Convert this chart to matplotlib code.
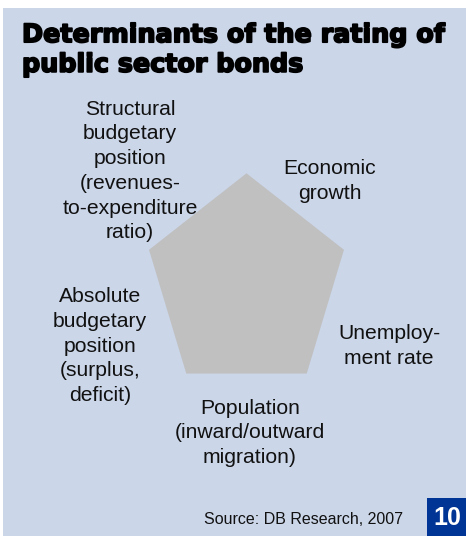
import numpy as np
import matplotlib.pyplot as plt
import matplotlib.patheffects as pe
from matplotlib.patches import Polygon, Rectangle

W, H = 466, 536

TITLE = "Determinants of the rating of\npublic sector bonds"
LABELS = [
    "Structural\nbudgetary\nposition\n(revenues-\nto-expenditure\nratio)",
    "Economic\ngrowth",
    "Unemploy-\nment rate",
    "Population\n(inward/outward\nmigration)",
    "Absolute\nbudgetary\nposition\n(surplus,\ndeficit)",
]
LABEL_POS = [(130, 171), (330, 181), (389, 346), (250, 433), (100, 346)]
SOURCE = "Source: DB Research, 2007"
PAGE = "10"

BG = "#cbd6e9"
GREY = "#c0c0c0"
BLUE = "#003595"

fig = plt.figure(figsize=(W / 100, H / 100), dpi=100)
ax = fig.add_axes([0, 0, 1, 1])
ax.set_xlim(0, W)
ax.set_ylim(H, 0)
ax.axis("off")

# panel background
ax.add_patch(Rectangle((3, 8), W - 3, H - 8, facecolor=BG, edgecolor="none"))

# pentagon (regular, slightly stretched vertically)
cx, cy, r, stretch = 246.5, 284, 102.5, 1.08
ang = np.deg2rad(90 + 72 * np.arange(5))
pts = np.column_stack([cx + r * np.cos(ang), cy - stretch * r * np.sin(ang)])
ax.add_patch(Polygon(pts, closed=True, facecolor=GREY, edgecolor="none"))

ax.text(22, 50, TITLE, fontsize=18.3, fontweight="heavy", family="DejaVu Sans",
        ha="left", va="center", linespacing=1.3, color="black",
        path_effects=[pe.withStroke(linewidth=1.3, foreground="black")])

for lab, (x, y) in zip(LABELS, LABEL_POS):
    ax.text(x, y, lab, fontsize=15.2, family="Liberation Sans", ha="center",
            va="center", linespacing=1.38, color="#111111")

ax.text(403, 520, SOURCE, fontsize=11.5, family="Liberation Sans",
        ha="right", va="center", color="#111111")

ax.add_patch(Rectangle((427, 498), W - 427, H - 498, facecolor=BLUE, edgecolor="none"))
ax.text(447, 518, PAGE, fontsize=18, fontweight="bold", family="Liberation Sans",
        ha="center", va="center", color="white")

fig.savefig("out.png", dpi=100)
